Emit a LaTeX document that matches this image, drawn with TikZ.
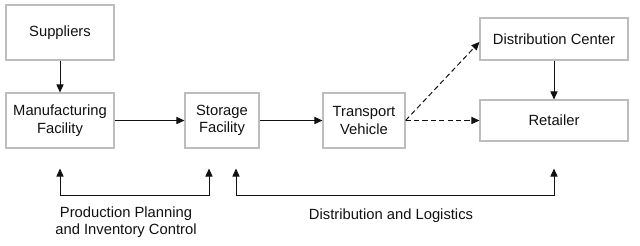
\documentclass[tikz,border=0pt]{standalone}
\usepackage{fontspec}
\setmainfont{Liberation Sans}
\usetikzlibrary{arrows.meta, calc}
\definecolor{boxline}{HTML}{BDBDBD}
\definecolor{inkblack}{HTML}{111111}

\tikzset{
  block/.style={draw=boxline, line width=0.8pt, fill=white, align=center,
    text=inkblack, font=\fontsize{10.5}{12.5}\selectfont, inner sep=0pt},
  flow/.style={draw=inkblack, line width=0.7pt, -{Triangle[length=2mm, width=1.8mm]}},
  feedback/.style={draw=inkblack, line width=0.7pt,
    {Triangle[length=2mm, width=1.8mm]}-{Triangle[length=2mm, width=1.8mm]}},
  maybe/.style={flow, dash pattern=on 1.3mm off 0.8mm},
  caption/.style={text=inkblack, font=\fontsize{10.5}{12.5}\selectfont, align=center}
}

\begin{document}
\begin{tikzpicture}[x=0.025cm, y=-0.025cm]

% Frame
\useasboundingbox (0,0) rectangle (640,245);

% --- Blocks ---
\node[block, minimum width=2.7cm, minimum height=1.375cm] (sup) at (60,32.5) {Suppliers};
\node[block, minimum width=2.7cm, minimum height=1.375cm] (mfg) at (60,120.5)
  {Manufacturing\\Facility};
\node[block, minimum width=1.85cm, minimum height=1.375cm] (stor) at (222,120.5)
  {Storage\\Facility};
\node[block, minimum width=2.05cm, minimum height=1.375cm] (tv) at (364,120.5)
  {Transport\\Vehicle};
\node[block, minimum width=3.7cm, minimum height=1.05cm] (dc) at (554,39)
  {Distribution Center};
\node[block, minimum width=3.7cm, minimum height=1.025cm] (ret) at (554,120.5)
  {Retailer};

% --- Main flow ---
\draw[flow] (sup) -- (mfg);
\draw[flow] (mfg) -- (stor);
\draw[flow] (stor) -- (tv);
\draw[maybe] (tv.east) -- ($(dc.west)+(0,3)$);
\draw[maybe] (tv.east) -- (ret.west);
\draw[flow] (dc) -- (ret);

% --- Feedback loops (below) ---
\coordinate (mfgfb) at ($(mfg.south)+(0,20)$);
\coordinate (storfbl) at ($(stor.south)+(-13,20)$);
\coordinate (storfbr) at ($(stor.south)+(14,20)$);
\coordinate (retfb) at ($(ret.south)+(0,27)$);

\draw[feedback] (mfgfb) -- ++(0,27) -| (storfbl);
\draw[feedback] (storfbr) -- ++(0,27) -| (retfb);

% --- Captions ---
\node[caption] (ppic) at (126,222) {Production Planning\\and Inventory Control};
\node[caption] (dl) at (391,216) {Distribution and Logistics};

\end{tikzpicture}
\end{document}
